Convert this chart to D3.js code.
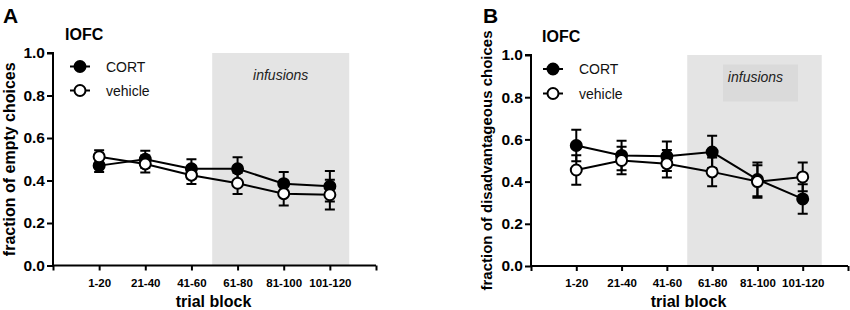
<!DOCTYPE html>
<html><head><meta charset="utf-8">
<script src="https://cdn.jsdelivr.net/npm/d3@7"></script>
<style>
html,body{margin:0;padding:0;background:#fff;}
svg{display:block;font-family:"Liberation Sans",Arial,sans-serif;}
</style></head>
<body><svg id="chart" width="850" height="310"></svg>
<script>
const categories = ["1-20","21-40","41-60","61-80","81-100","101-120"];
const yTicks = [0.0,0.2,0.4,0.6,0.8,1.0];
const seriesNames = ["CORT","vehicle"];
// Panel A: fraction of empty choices
const emptyCORT = [0.47,0.50,0.455,0.455,0.385,0.373];
const emptyCORTerr = [0.03,0.04,0.045,0.055,0.055,0.072];
const emptyVehicle = [0.512,0.478,0.425,0.387,0.338,0.333];
const emptyVehicleErr = [0.03,0.04,0.042,0.05,0.056,0.07];
// Panel B: fraction of disadvantageous choices
const disCORT = [0.571,0.524,0.52,0.54,0.41,0.318];
const disCORTerr = [0.075,0.07,0.07,0.077,0.08,0.07];
const disVehicle = [0.455,0.50,0.485,0.446,0.40,0.422];
const disVehicleErr = [0.07,0.065,0.065,0.068,0.077,0.068];
const infusionRange = [2.45,5.42]; // in category-index units

const panels = [
  {letter:"A", ylabel:"fraction of empty choices", cort:emptyCORT, cortErr:emptyCORTerr, veh:emptyVehicle, vehErr:emptyVehicleErr,
   x0:53, x1:376, yTop:53, yBot:265.5, letterX:3, titleX:65, titleY:39.5, ylabX:15, ylabSize:16, legX:80, legY:66.5, legDy:24,
   innerBox:false},
  {letter:"B", ylabel:"fraction of disadvantageous choices", cort:disCORT, cortErr:disCORTerr, veh:disVehicle, vehErr:disVehicleErr,
   x0:531, x1:848, yTop:55, yBot:266, letterX:483, titleX:542, titleY:41.5, ylabX:492, ylabSize:15, legX:553, legY:69, legDy:24.5,
   innerBox:true}
];

const svg = d3.select("#chart");

panels.forEach(p => {
  const g = svg.append("g");
  const x = d3.scaleLinear().domain([-1, categories.length]).range([p.x0, p.x1]);
  const y = d3.scaleLinear().domain([0,1]).range([p.yBot, p.yTop]);

  // infusion shading
  g.append("rect")
    .attr("x", x(infusionRange[0])).attr("y", y(1))
    .attr("width", x(infusionRange[1]) - x(infusionRange[0]))
    .attr("height", y(0) - y(1))
    .attr("fill", "#e4e4e4");
  const mid = (x(infusionRange[0]) + x(infusionRange[1]))/2;
  if (p.innerBox) {
    g.append("rect").attr("x", mid-31.5).attr("y", y(0.955)).attr("width", 75).attr("height", 37).attr("fill","#dadada");
  }
  g.append("text").attr("x", p.innerBox ? mid+1 : mid).attr("y", p.innerBox ? y(0.87) : y(0.875))
    .attr("text-anchor","middle").attr("font-style","italic").attr("font-size","14px").attr("fill","#222")
    .text("infusions");

  // axes
  const yAxis = d3.axisLeft(y).tickValues(yTicks).tickFormat(d3.format(".1f")).tickSize(6).tickPadding(2);
  const ya = g.append("g").attr("transform", `translate(${p.x0},0)`).call(yAxis);
  ya.select(".domain").attr("stroke","#000").attr("stroke-width",2).attr("d", `M-6,${y(1)}H0V${y(0)}`);
  ya.selectAll(".tick line").attr("stroke","#000").attr("stroke-width",2);
  ya.selectAll(".tick text").attr("font-size","15.5px").attr("font-weight","bold").attr("fill","#000")
    .attr("font-family","'Liberation Sans',Arial,sans-serif");

  const xTickVals = d3.range(-1, categories.length+1);
  const xAxis = d3.axisBottom(x).tickValues(xTickVals)
    .tickFormat(d => (d>=0 && d<categories.length) ? categories[d] : "").tickSize(5).tickPadding(8);
  const xa = g.append("g").attr("transform", `translate(0,${p.yBot})`).call(xAxis);
  xa.select(".domain").attr("stroke","#000").attr("stroke-width",2).attr("d", `M${p.x0},0H${p.x1}`);
  xa.selectAll(".tick line").attr("stroke","#000").attr("stroke-width",2);
  xa.selectAll(".tick text").attr("font-size","11.5px").attr("font-weight","bold").attr("fill","#000")
    .attr("font-family","'Liberation Sans',Arial,sans-serif");

  // labels
  g.append("text").attr("x",(p.x0+p.x1)/2 - 1).attr("y",307).attr("text-anchor","middle")
    .attr("font-size","16px").attr("font-weight","bold").text("trial block");
  g.append("text").attr("transform",`translate(${p.ylabX},${(p.yTop+p.yBot)/2}) rotate(-90)`)
    .attr("text-anchor","middle").attr("font-size",p.ylabSize+"px").attr("font-weight","bold").text(p.ylabel);
  g.append("text").attr("x",p.letterX).attr("y",23).attr("font-size","21px").attr("font-weight","bold").text(p.letter);
  g.append("text").attr("x",p.titleX).attr("y",p.titleY).attr("font-size","16px").attr("font-weight","bold").text("IOFC");

  // series
  const series = [
    {name:seriesNames[0], vals:p.cort, err:p.cortErr, fill:"#000"},
    {name:seriesNames[1], vals:p.veh, err:p.vehErr, fill:"#fff"}
  ];
  const line = d3.line().x((d,i)=>x(i)).y(d=>y(d));
  series.forEach(s => {
    g.append("path").datum(s.vals).attr("d", line).attr("fill","none").attr("stroke","#000").attr("stroke-width",2);
  });
  series.forEach(s => {
    const eb = g.append("g");
    s.vals.forEach((v,i) => {
      const cx = x(i), t = y(v + s.err[i]), b = y(v - s.err[i]);
      eb.append("path").attr("d", `M${cx},${t}V${b}M${cx-5},${t}H${cx+5}M${cx-5},${b}H${cx+5}`)
        .attr("stroke","#000").attr("stroke-width",2).attr("fill","none");
    });
  });
  series.forEach(s => {
    g.append("g").selectAll("circle").data(s.vals).join("circle")
      .attr("cx",(d,i)=>x(i)).attr("cy",d=>y(d)).attr("r",5.5)
      .attr("fill",s.fill).attr("stroke","#000").attr("stroke-width",2);
  });

  // legend
  series.forEach((s,k) => {
    const ly = p.legY + k*p.legDy;
    g.append("line").attr("x1",p.legX-10).attr("x2",p.legX+10).attr("y1",ly).attr("y2",ly)
      .attr("stroke","#000").attr("stroke-width",2);
    g.append("circle").attr("cx",p.legX).attr("cy",ly).attr("r",5.5).attr("fill",s.fill)
      .attr("stroke","#000").attr("stroke-width",2);
    g.append("text").attr("x",p.legX+26).attr("y",ly+5).attr("font-size","14px").attr("fill","#111").text(s.name);
  });
});
</script>
</body></html>
